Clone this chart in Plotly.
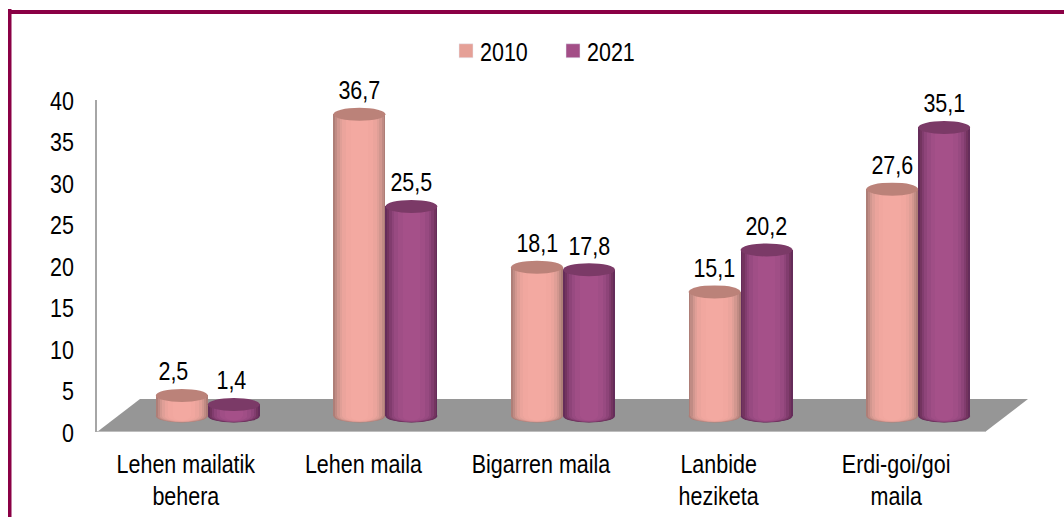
import plotly.graph_objects as go

categories = ["Lehen mailatik<br>behera", "Lehen maila", "Bigarren maila", "Lanbide<br>heziketa", "Erdi-goi/goi<br>maila"]
years = ["2010", "2021"]
values_2010 = [2.5, 36.7, 18.1, 15.1, 27.6]
values_2021 = [1.4, 25.5, 17.8, 20.2, 35.1]
y_ticks = [0, 5, 10, 15, 20, 25, 30, 35, 40]

W, H = 1064, 517
L, R, T, B = 97, 1028, 100, 432        # plot box in pixels
CAT_W = 177.6                          # pixels per category
FONT = "Liberation Sans, Arial, sans-serif"
FS = 25

ppx = CAT_W
x_lo = -0.5
x_hi = x_lo + (R - L) / ppx
# the bars stand on the floor, above the front edge
BASE_PX, BAR_SCALE = 416, 8.22
y2_lo = -(B - BASE_PX) / BAR_SCALE
y2_hi = (BASE_PX - T) / BAR_SCALE


def xpx(p):
    return x_lo + (p - L) / ppx


def ypx(p):
    return (B - p) / (B - T) * 40


def px_x(p):
    return (p - L) / (R - L)


def px_y(p):
    return (B - p) / (B - T)


pair_shift = 22 / ppx
cyl_w = 52 / ppx
ell_h = 6.5 / BAR_SCALE

shades = {
    "2010": {"steps": ["#ae7e77", "#c08b84", "#d2978f", "#e09f97", "#ebA49C", "#f1a79f", "#f3a9a1"],
             "top": "#bb8279", "legend": "#e5a097"},
    "2021": {"steps": ["#652c5a", "#73345f", "#813c6e", "#8e4479", "#984a81", "#a04e86", "#a55089"],
             "top": "#7b3a67", "legend": "#a34e87"},
}
# share of the cylinder width covered by each nested layer
fractions = [1.0, 0.93, 0.85, 0.76, 0.66, 0.52, 0.34]

fig = go.Figure()
shapes = []

# floor
fl = f"M{xpx(97)},{ypx(432)} L{xpx(140)},{ypx(399)} L{xpx(1028)},{ypx(399)} L{xpx(985)},{ypx(432)} Z"
shapes.append(dict(type="path", path=fl, xref="x", yref="y", fillcolor="#969696", line=dict(width=0), layer="below"))
shapes.append(dict(type="line", xref="x", yref="y", x0=xpx(97), x1=xpx(985), y0=0, y1=0,
                   line=dict(color="#bdbdbd", width=2), layer="below"))

series = [("2010", values_2010, -0.5), ("2021", values_2021, 0.5)]

# bottom curves of the cylinders
for year, vals, side in series:
    for i in range(len(categories)):
        cx = i + pair_shift + side * cyl_w
        for frac, col in zip(fractions, shades[year]["steps"]):
            half = cyl_w / 2 * frac
            hh = ell_h * (0.55 + 0.45 * frac)
            shapes.append(dict(type="circle", xref="x", yref="y2", x0=cx - half, x1=cx + half,
                               y0=-hh, y1=hh, fillcolor=col, line=dict(width=0), layer="below"))

# cylinder bodies: nested bars
for year, vals, side in series:
    xs = [i + pair_shift + side * cyl_w for i in range(len(categories))]
    for k, (frac, col) in enumerate(zip(fractions, shades[year]["steps"])):
        fig.add_trace(go.Bar(
            x=xs, y=vals, width=cyl_w * frac, yaxis="y2", name=year,
            marker=dict(color=col, line=dict(width=0)),
            showlegend=False, hoverinfo="skip"))

# legend entries
for year, vals, side in series:
    fig.add_trace(go.Bar(x=[None], y=[None], name=year, yaxis="y2",
                         marker=dict(color=shades[year]["legend"]), showlegend=True))

# cylinder tops
for year, vals, side in series:
    for i, v in enumerate(vals):
        cx = i + pair_shift + side * cyl_w
        shapes.append(dict(type="circle", xref="x", yref="y2", x0=cx - cyl_w / 2, x1=cx + cyl_w / 2,
                           y0=v - ell_h, y1=v + ell_h, fillcolor=shades[year]["top"],
                           line=dict(width=0), layer="above"))

# value labels
label_shift = {("2010", 0): -8, ("2021", 0): -2}
annotations = []
for year, vals, side in series:
    for i, v in enumerate(vals):
        cx = i + pair_shift + side * cyl_w
        annotations.append(dict(x=cx, y=v, xref="x", yref="y2", text=f"{v:.1f}".replace(".", ","),
                                showarrow=False, yshift=24, xshift=label_shift.get((year, i), 0),
                                font=dict(family=FONT, size=FS, color="#000000")))

# frame
C = "#8a0045"
shapes.append(dict(type="rect", xref="paper", yref="paper", x0=px_x(8), x1=px_x(W), y0=px_y(14), y1=px_y(10),
                   fillcolor=C, line=dict(width=0), layer="above"))
shapes.append(dict(type="rect", xref="paper", yref="paper", x0=px_x(8), x1=px_x(11.5), y0=px_y(H), y1=px_y(9),
                   fillcolor=C, line=dict(width=0), layer="above"))

fig.update_layout(
    width=W, height=H, autosize=False,
    margin=dict(l=L, r=W - R, t=T, b=H - B, pad=0, autoexpand=False),
    paper_bgcolor="#ffffff", plot_bgcolor="#ffffff",
    barmode="overlay", bargap=0,
    font=dict(family=FONT, size=FS, color="#000000"),
    showlegend=True,
    legend=dict(orientation="h", xref="container", yref="container", x=446 / W, y=1 - 28 / H,
                xanchor="left", yanchor="top",
                font=dict(family=FONT, size=FS), bgcolor="rgba(0,0,0,0)", itemwidth=30,
                entrywidth=62, entrywidthmode="pixels", traceorder="normal"),
    xaxis=dict(range=[x_lo, x_hi], tickmode="array", tickvals=list(range(len(categories))),
               ticktext=categories, showgrid=False, zeroline=False, showline=False, automargin=False,
               ticks="", ticklabelstandoff=15, tickfont=dict(family=FONT, size=FS)),
    yaxis=dict(range=[0, 40], tickmode="array", tickvals=y_ticks, showgrid=False, zeroline=False,
               showline=True, linecolor="#a6a6a6", linewidth=2, ticks="", ticklabelstandoff=16,
               automargin=False, ticklabelshift=1, tickfont=dict(family=FONT, size=FS)),
    yaxis2=dict(range=[y2_lo, y2_hi], overlaying="y", visible=False, fixedrange=True),
    shapes=shapes, annotations=annotations,
)

# the reference font is a narrow sans: condense the real text horizontally, and set the legend keys
post = """
document.body.style.margin='0';document.body.style.overflow='hidden';
document.querySelectorAll('.legendtext').forEach(function(t){t.setAttribute('x', +t.getAttribute('x')-6);});
document.querySelectorAll('.legendpoints path').forEach(function(p){p.setAttribute('d','M7,7H-7V-7H7Z');});
document.querySelectorAll('svg.main-svg text').forEach(function(t){
  var b=t.getBBox(); if(!b.width) return;
  var a=getComputedStyle(t).textAnchor;
  var c=a==='end'?b.x+b.width:(a==='middle'?b.x+b.width/2:b.x);
  var old=t.getAttribute('transform')||'';
  t.setAttribute('transform',old+' translate('+c+',0) scale(0.86,1) translate('+(-c)+',0)');
});
"""
fig.write_html("out.html", post_script=post, config=dict(displayModeBar=False))
